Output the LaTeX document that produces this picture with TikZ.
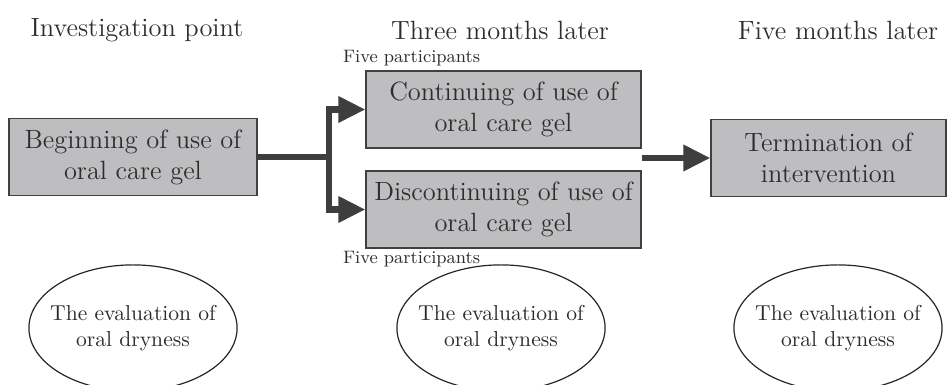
\documentclass[tikz,border=0pt]{standalone}
\usepackage{tikz}
\usetikzlibrary{shapes.geometric, arrows.meta, positioning, calc}
\definecolor{boxgray}{RGB}{190,190,192}
\definecolor{flowgray}{RGB}{62,62,64}
\definecolor{inkgray}{RGB}{45,45,45}

\begin{document}
\begin{tikzpicture}[x=0.5pt, y=-0.5pt, font=\fontsize{13.2}{15.5}\selectfont, text=inkgray,
    stagebox/.style={draw=black!75, fill=boxgray, line width=0.6pt, minimum width=124pt, minimum height=38.5pt, align=center, inner sep=0pt},
    evalell/.style={draw=black!85, ellipse, line width=0.6pt, font=\fontsize{10.8}{12.8}\selectfont, inner xsep=-4.6pt, inner ysep=11pt, align=center},
    note/.style={font=\small, anchor=west},
    flow/.style={flowgray, line width=3.2pt},
    tip/.style={-{Triangle[length=13.5pt,width=12.5pt]}}]
    \useasboundingbox (0,0) rectangle (947,385);

    % time points
    \node (t0) at (137,30) {Investigation point};
    \node (t1) at (500,30) {Three months later};
    \node (t2) at (838,30) {Five months later};

    % boxes
    \node[stagebox] (beg) at (133,157) {Beginning of use of\\oral care gel};
    \node[stagebox, minimum width=137.5pt] (cont) at (503.5,109.5) {Continuing of use of\\oral care gel};
    \node[stagebox, minimum width=137.5pt] (disc) at (503.5,209.5) {Discontinuing of use of\\oral care gel};
    \node[stagebox, minimum width=117.5pt] (term) at (828.5,158) {Termination of\\intervention};

    \node[note] (n1) at (336,58) {Five participants};
    \node[note] (n2) at (336,259) {Five participants};

    % arrows
    \coordinate (split) at (329,157);
    \coordinate (gap) at (cont.east |- term.west);
    \draw[flow] (beg.east) -- (split);
    \draw[flow, tip] (split) |- (cont.west);
    \draw[flow, tip] (split) |- (disc.west);
    \draw[flow, tip] (gap) -- (term.west);

    % evaluation
    \node[evalell] (e0) at (133,328) {The evaluation of\\oral dryness};
    \node[evalell] (e1) at (501,328) {The evaluation of\\oral dryness};
    \node[evalell] (e2) at (838,328) {The evaluation of\\oral dryness};
\end{tikzpicture}
\end{document}
